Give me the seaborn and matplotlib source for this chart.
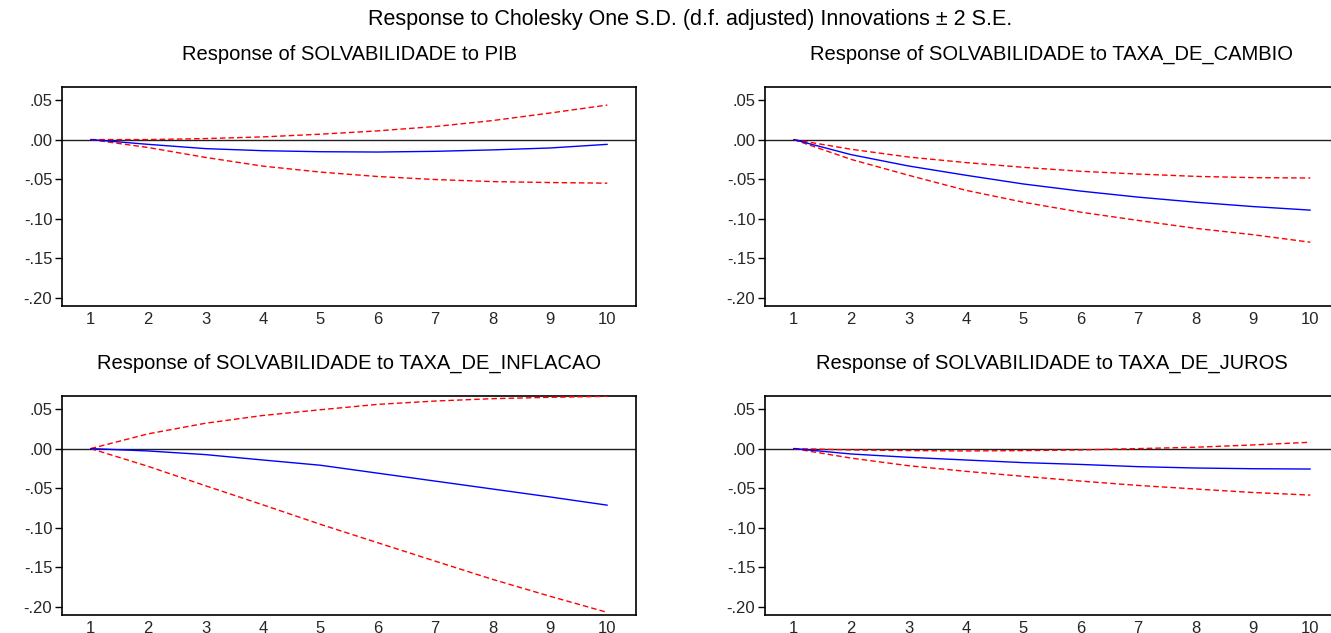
import matplotlib
matplotlib.use("Agg")
import matplotlib.pyplot as plt
import numpy as np
import pandas as pd
import seaborn as sns

# ---------------- data ----------------
periods = [1, 2, 3, 4, 5, 6, 7, 8, 9, 10]

pib_resp = [0.0, -0.006, -0.0114, -0.014, -0.0153, -0.0157, -0.0148, -0.013, -0.0106, -0.006]
pib_upper = [0.0, 0.0, 0.0013, 0.0034, 0.0068, 0.011, 0.0165, 0.024, 0.0335, 0.0436]
pib_lower = [0.0, -0.010, -0.0225, -0.0335, -0.041, -0.0466, -0.0504, -0.053, -0.0542, -0.055]

cambio_resp = [0.0, -0.019, -0.0333, -0.045, -0.056, -0.065, -0.0726, -0.079, -0.0845, -0.089]
cambio_upper = [0.0, -0.0122, -0.022, -0.029, -0.035, -0.040, -0.0435, -0.0464, -0.048, -0.0485]
cambio_lower = [0.0, -0.025, -0.045, -0.064, -0.079, -0.0916, -0.102, -0.112, -0.120, -0.1295]

inflacao_resp = [0.0, -0.003, -0.0076, -0.0144, -0.021, -0.031, -0.041, -0.051, -0.061, -0.0714]
inflacao_upper = [0.0, 0.0186, 0.032, 0.0418, 0.049, 0.0558, 0.060, 0.063, 0.0647, 0.066]
inflacao_lower = [0.0, -0.0224, -0.0469, -0.071, -0.0955, -0.1188, -0.142, -0.165, -0.1863, -0.2067]

juros_resp = [0.0, -0.0068, -0.011, -0.0144, -0.0177, -0.020, -0.0228, -0.0245, -0.0254, -0.0258]
juros_upper = [0.0, -0.0017, -0.0025, -0.003, -0.0025, -0.0017, 0.0, 0.0017, 0.0046, 0.008]
juros_lower = [0.0, -0.012, -0.0216, -0.0287, -0.035, -0.041, -0.0465, -0.051, -0.0554, -0.0587]

panel_titles = [
    "Response of SOLVABILIDADE to PIB",
    "Response of SOLVABILIDADE to TAXA_DE_CAMBIO",
    "Response of SOLVABILIDADE to TAXA_DE_INFLACAO",
    "Response of SOLVABILIDADE to TAXA_DE_JUROS",
]
main_title = "Response to Cholesky One S.D. (d.f. adjusted) Innovations \u00b1 2 S.E."

y_ticks = [0.05, 0.0, -0.05, -0.10, -0.15, -0.20]
y_tick_labels = [".05", ".00", "-.05", "-.10", "-.15", "-.20"]
x_tick_labels = ["1", "2", "3", "4", "5", "6", "7", "8", "9", "10"]

# ---------------- style ----------------
sns.set_style("white")
plt.rcParams["font.family"] = ["Liberation Sans", "DejaVu Sans"]

W, H = 1331, 633
fig = plt.figure(figsize=(W / 100, H / 100), dpi=100)

# axes rectangles in pixels: (left, top, width, height)
rects = [
    (62, 86.5, 574, 219.5),
    (765, 86.5, 574, 219.5),
    (62, 395.5, 574, 219.5),
    (765, 395.5, 574, 219.5),
]

series = [
    (pib_resp, pib_upper, pib_lower),
    (cambio_resp, cambio_upper, cambio_lower),
    (inflacao_resp, inflacao_upper, inflacao_lower),
    (juros_resp, juros_upper, juros_lower),
]

for (l, t, w, h), (resp, up, lo), title in zip(rects, series, panel_titles):
    ax = fig.add_axes([l / W, 1 - (t + h) / H, w / W, h / H])
    df = pd.DataFrame({"period": periods, "resp": resp, "upper": up, "lower": lo})
    ax.axhline(0, color="#202020", lw=1.0, zorder=1)
    sns.lineplot(data=df, x="period", y="upper", ax=ax, color="#ff0000",
                 lw=1.0, linestyle=(0, (4, 2.2)), zorder=3)
    sns.lineplot(data=df, x="period", y="lower", ax=ax, color="#ff0000",
                 lw=1.0, linestyle=(0, (4, 2.2)), zorder=3)
    sns.lineplot(data=df, x="period", y="resp", ax=ax, color="#0000ff",
                 lw=1.0, zorder=4)

    ax.set_xlim(0.5, 10.5)
    ax.set_ylim(-0.21, 0.067)
    ax.set_xlabel("")
    ax.set_ylabel("")

    ax.set_yticks(y_ticks)
    ax.set_yticklabels(y_tick_labels)
    ax.set_xticks(periods)
    ax.set_xticklabels(x_tick_labels)
    ax.set_xticks(np.arange(0.5, 11, 1.0), minor=True)
    ax.tick_params(axis="x", which="major", length=0, pad=4, labelsize=12)
    ax.tick_params(axis="x", which="minor", length=5, width=1, direction="out",
                   color="black")
    ax.tick_params(axis="y", which="major", length=5, width=1, direction="out",
                   color="black", pad=2, labelsize=12, left=True)
    for s in ax.spines.values():
        s.set_visible(True)
        s.set_color("black")
        s.set_linewidth(1.2)
    ax.grid(False)

    ax.text(0.5, 1 + 32 / h, title, transform=ax.transAxes, ha="center",
            va="center", fontsize=14.5, color="black")

fig.text(690 / W, 1 - 19 / H, main_title, ha="center", va="center",
         fontsize=15.5, color="black")

fig.savefig("out.png", dpi=100, facecolor="white")
